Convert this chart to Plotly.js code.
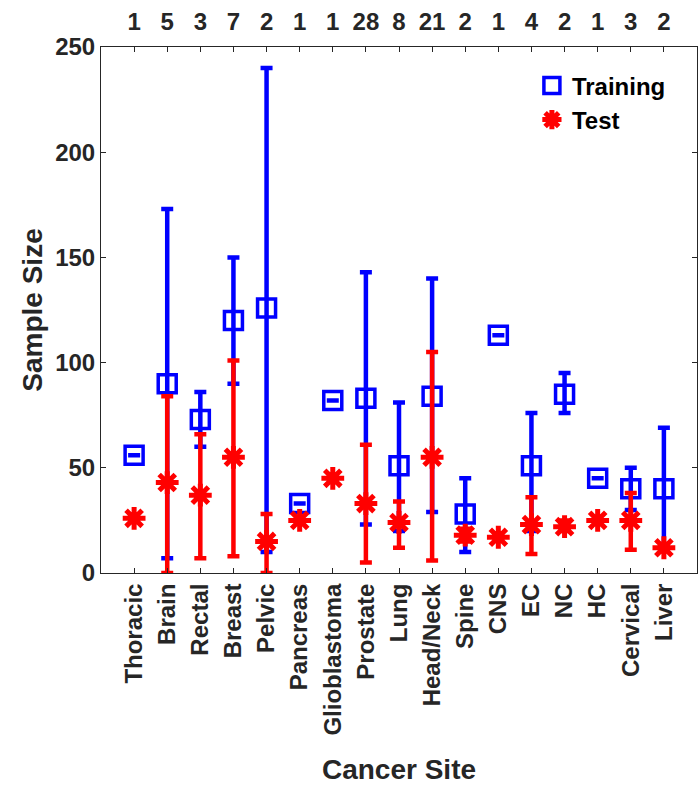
<!DOCTYPE html>
<html>
<head>
<meta charset="utf-8">
<script src="https://cdn.plot.ly/plotly-3.0.1.min.js"></script>
<style>html,body{margin:0;padding:0;background:#fff;}#chart{width:699px;height:789px;}</style>
</head>
<body>
<div id="chart"></div>
<script>
var categories = ["Thoracic","Brain","Rectal","Breast","Pelvic","Pancreas","Glioblastoma","Prostate","Lung","Head/Neck","Spine","CNS","EC","NC","HC","Cervical","Liver"];
var studyCounts = ["1","5","3","7","2","1","1","28","8","21","2","1","4","2","1","3","2"];

var trainMean = [56, 90, 73, 120, 126, 33, 82, 83, 51, 84, 28, 113, 51, 85, 45, 40, 40];
var trainLow  = [56, 7, 60, 90, 10, 33, 82, 23, 20, 29, 10, 113, 20, 76, 45, 30, 12];
var trainHigh = [56, 173, 86, 150, 240, 33, 82, 143, 81, 140, 45, 113, 76, 95, 45, 50, 69];

var testMean = [26, 43, 37, 55, 15, 25, 45, 33, 24, 55, 18, 17, 23, 22, 25, 25, 12];
var testLow  = [26, 0, 7, 8, 0, 25, 45, 5, 12, 6, 15, 17, 9, 20, 25, 11, 12];
var testHigh = [26, 84, 66, 101, 28, 25, 45, 61, 34, 105, 21, 17, 36, 25, 25, 38, 12];

var xpos = categories.map(function(c, i){ return i + 1; });
function plus(m, h){ return m.map(function(v,i){ return h[i]-v; }); }
function minus(m, l){ return m.map(function(v,i){ return v-l[i]; }); }

var FAM = "Liberation Sans, Arial, sans-serif";
var font = {family: FAM, size: 24, color: "#262626", weight: "bold"};
var titleFont = {family: FAM, size: 28, color: "#262626", weight: "bold"};

var traces = [
  {
    x: xpos, y: trainMean, name: "Training", type: "scatter", mode: "markers",
    marker: {symbol: "square-open", size: 18, color: "#0000FF", line: {width: 3.5, color: "#0000FF"}},
    error_y: {type: "data", symmetric: false, array: plus(trainMean, trainHigh), arrayminus: minus(trainMean, trainLow),
              color: "#0000FF", thickness: 4.5, width: 6}
  },
  {
    x: xpos, y: testMean, name: "Test", type: "scatter", mode: "markers",
    marker: {symbol: "asterisk-open", size: 19, color: "#FF0000", line: {width: 5, color: "#FF0000"}},
    error_y: {type: "data", symmetric: false, array: plus(testMean, testHigh), arrayminus: minus(testMean, testLow),
              color: "#FF0000", thickness: 4.5, width: 6}
  },
  {
    x: xpos, y: trainMean, xaxis: "x2", type: "scatter", mode: "markers",
    marker: {opacity: 0}, showlegend: false, hoverinfo: "skip"
  }
];

var layout = {
  width: 699, height: 789,
  margin: {l: 101, r: 2, t: 47, b: 216},
  paper_bgcolor: "#fff", plot_bgcolor: "#fff",
  font: font,
  showlegend: true,
  legend: {x: 0.723, y: 0.969, xanchor: "left", yanchor: "top", bgcolor: "rgba(0,0,0,0)",
           font: {family: FAM, size: 24, color: "#000", weight: "bold"}},
  xaxis: {
    range: [0, 18], tickvals: xpos, ticktext: categories, tickangle: -90,
    ticks: "inside", ticklen: 5, tickcolor: "#262626", tickwidth: 1,
    showline: true, linecolor: "#262626", linewidth: 1, mirror: "ticks",
    showgrid: false, zeroline: false,
    tickfont: font,
    title: {text: "Cancer Site", font: titleFont, standoff: 24}
  },
  xaxis2: {
    overlaying: "x", side: "top", anchor: "y", range: [0, 18],
    tickvals: xpos, ticktext: studyCounts, ticks: "", showgrid: false, zeroline: false,
    showline: false, tickfont: font, ticklabelstandoff: 11
  },
  yaxis: {
    range: [0, 250], tickvals: [0, 50, 100, 150, 200, 250],
    ticks: "inside", ticklen: 5, tickcolor: "#262626", tickwidth: 1,
    showline: true, linecolor: "#262626", linewidth: 1, mirror: "ticks",
    showgrid: false, zeroline: false,
    tickfont: font,
    title: {text: "Sample Size", font: titleFont, standoff: 4}
  }
};

Plotly.newPlot("chart", traces, layout, {displayModeBar: false, staticPlot: true});
</script>
</body>
</html>
